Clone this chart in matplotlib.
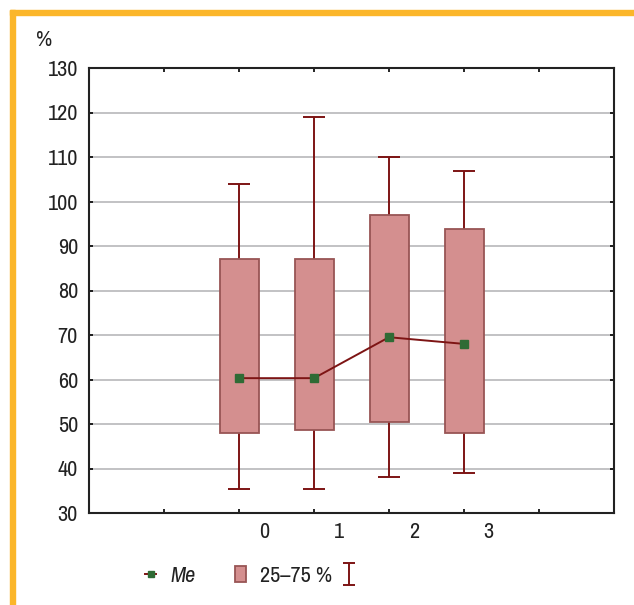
import matplotlib
matplotlib.use('Agg')
import matplotlib.pyplot as plt
from matplotlib.patches import Patch, Rectangle
from matplotlib.lines import Line2D

# data
groups = [0, 1, 2, 3]
q1 = [48.0, 48.7, 50.5, 48.0]
q3 = [87.0, 87.0, 96.9, 93.9]
lo = [35.5, 35.5, 38.0, 39.0]
hi = [104.0, 118.9, 110.0, 106.8]
med = [60.3, 60.3, 69.5, 68.0]
yticks = list(range(30, 131, 10))

plt.rcParams['font.family'] = ['Archivo Narrow', 'DejaVu Sans']

box_fc = '#d48f8f'
box_ec = '#985555'
dark = '#7d1414'
green = '#2f6b35'
txt = '#222222'
fs = 16

fig = plt.figure(figsize=(6.34, 6.05), dpi=100)
fig.patches.append(Rectangle((10 / 634, 1 - 15 / 605), 1, 5 / 605, transform=fig.transFigure,
                             color='#fbb62a', zorder=0))
fig.patches.append(Rectangle((10 / 634, 0), 5 / 634, 1 - 10 / 605, transform=fig.transFigure,
                             color='#fbb62a', zorder=0))

ax = fig.add_axes([89 / 634, 1 - 513 / 605, 525 / 634, 445 / 605])
ax.set_xlim(-2, 5)
ax.set_ylim(30, 130)

for y in yticks[1:-1]:
    ax.axhline(y, color='#c2c2c4', lw=1.4, zorder=1)

# whiskers drawn end to end, the box covers the middle part
mid = [(a + b) / 2 for a, b in zip(lo, hi)]
half = [(b - a) / 2 for a, b in zip(lo, hi)]
ax.errorbar(groups, mid, yerr=half, fmt='none', ecolor=dark, elinewidth=1.4,
            capsize=8.2, capthick=1.4, zorder=1.5)
ax.bar(groups, [b - a for a, b in zip(q1, q3)], bottom=q1, width=0.52,
       color=box_fc, edgecolor=box_ec, linewidth=1.3, zorder=2)
ax.plot(groups, med, color=dark, lw=1.4, marker='s', markersize=6,
        mfc=green, mec=green, zorder=3)

ax.set_yticks(yticks)
ax.set_xticks(range(-2, 6))
ax.set_xticklabels([])
for g in groups:
    ax.text(g + 0.33, 28.0, str(g), ha='center', va='top', fontsize=fs, color=txt)
ax.tick_params(direction='in', length=3, width=1.2, top=True, right=True,
               labelsize=fs, labelcolor=txt, pad=8)
for s in ax.spines.values():
    s.set_color(txt)
    s.set_linewidth(1.5)

fig.text(44 / 634, 1 - 40 / 605, '%', fontsize=fs, ha='center', va='center', color=txt)

# legend: dummy handles, the errorbar one sits outside the visible range
me_h = Line2D([], [], color=dark, lw=1.4, marker='s', markersize=5, mfc=green, mec=green)
box_h = Patch(facecolor=box_fc, edgecolor=box_ec, linewidth=1.3)
wh_h = ax.errorbar([-10], [0], yerr=[1], fmt='none', ecolor=dark, elinewidth=1.4,
                   capsize=4.5, capthick=1.4)
leg = fig.legend([me_h, box_h], ['Me', '25–75 %'], ncol=2, frameon=False,
                 loc='center left', bbox_to_anchor=(145 / 634, 1 - 576 / 605),
                 borderpad=0, borderaxespad=0, fontsize=fs, handlelength=0.5,
                 handleheight=0.75, handletextpad=0.65, columnspacing=1.75,
                 labelcolor=txt)
leg.get_texts()[0].set_style('italic')
fig.legend([wh_h], [''], frameon=False, loc='center left',
           bbox_to_anchor=(343 / 634, 1 - 576 / 605), borderpad=0, borderaxespad=0,
           fontsize=fs, handlelength=0.5, handleheight=0.75, handletextpad=0)

fig.savefig('out.png', dpi=100)
